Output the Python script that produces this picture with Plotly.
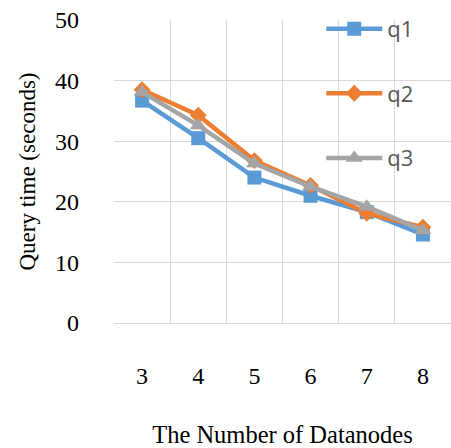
import plotly.graph_objects as go

categories = ["3", "4", "5", "6", "7", "8"]
q1 = [36.7, 30.5, 24.0, 21.0, 18.3, 14.6]
q2 = [38.5, 34.3, 26.8, 22.7, 18.1, 15.8]
q3 = [38.1, 32.6, 26.3, 22.5, 19.2, 15.3]
series_names = ["q1", "q2", "q3"]

colors = ["#5B9BD5", "#ED7D31", "#A5A5A5"]
symbols = ["square", "diamond", "triangle-up"]
sizes = [14, 13, 15]

fig = go.Figure()
for name, vals, c, s, sz in zip(series_names, [q1, q2, q3], colors, symbols, sizes):
    fig.add_trace(go.Scatter(
        x=categories, y=vals, name=name, mode="lines+markers",
        line=dict(color=c, width=4.5),
        marker=dict(symbol=s, size=sz, color=c),
        legendgroup=name,
    ))

serif = "Liberation Serif, Times New Roman, serif"
fig.update_layout(
    width=451, height=448,
    margin=dict(l=114, r=0, t=20, b=125),
    paper_bgcolor="white", plot_bgcolor="white",
    showlegend=True,
    legend=dict(
        x=0.615, y=1.04, xanchor="left", yanchor="top",
        traceorder="grouped", tracegroupgap=33,
        font=dict(family="Open Sans, Liberation Sans, sans-serif", size=22, color="#595959"),
        bgcolor="rgba(0,0,0,0)", itemwidth=56,
    ),
    xaxis=dict(
        type="category", range=[-0.5, 5.5], tickson="boundaries",
        showgrid=True, gridcolor="#D9D9D9", gridwidth=1.4,
        ticks="", showline=False, zeroline=False,
        tickfont=dict(family=serif, size=24, color="black"),
        ticklabelstandoff=36,
        title=dict(text="The Number of Datanodes", font=dict(family=serif, size=24.5, color="black"), standoff=39),
    ),
    yaxis=dict(
        range=[0, 50], dtick=10, tick0=0,
        showgrid=True, gridcolor="#D9D9D9", gridwidth=1.4,
        zeroline=True, zerolinecolor="#D9D9D9", zerolinewidth=1.4,
        ticks="", showline=False,
        tickfont=dict(family=serif, size=24, color="black"),
        ticklabelstandoff=34,
        title=dict(text="Query time (seconds)", font=dict(family=serif, size=23, color="black"), standoff=12),
    ),
)
fig.write_html("out.html")
